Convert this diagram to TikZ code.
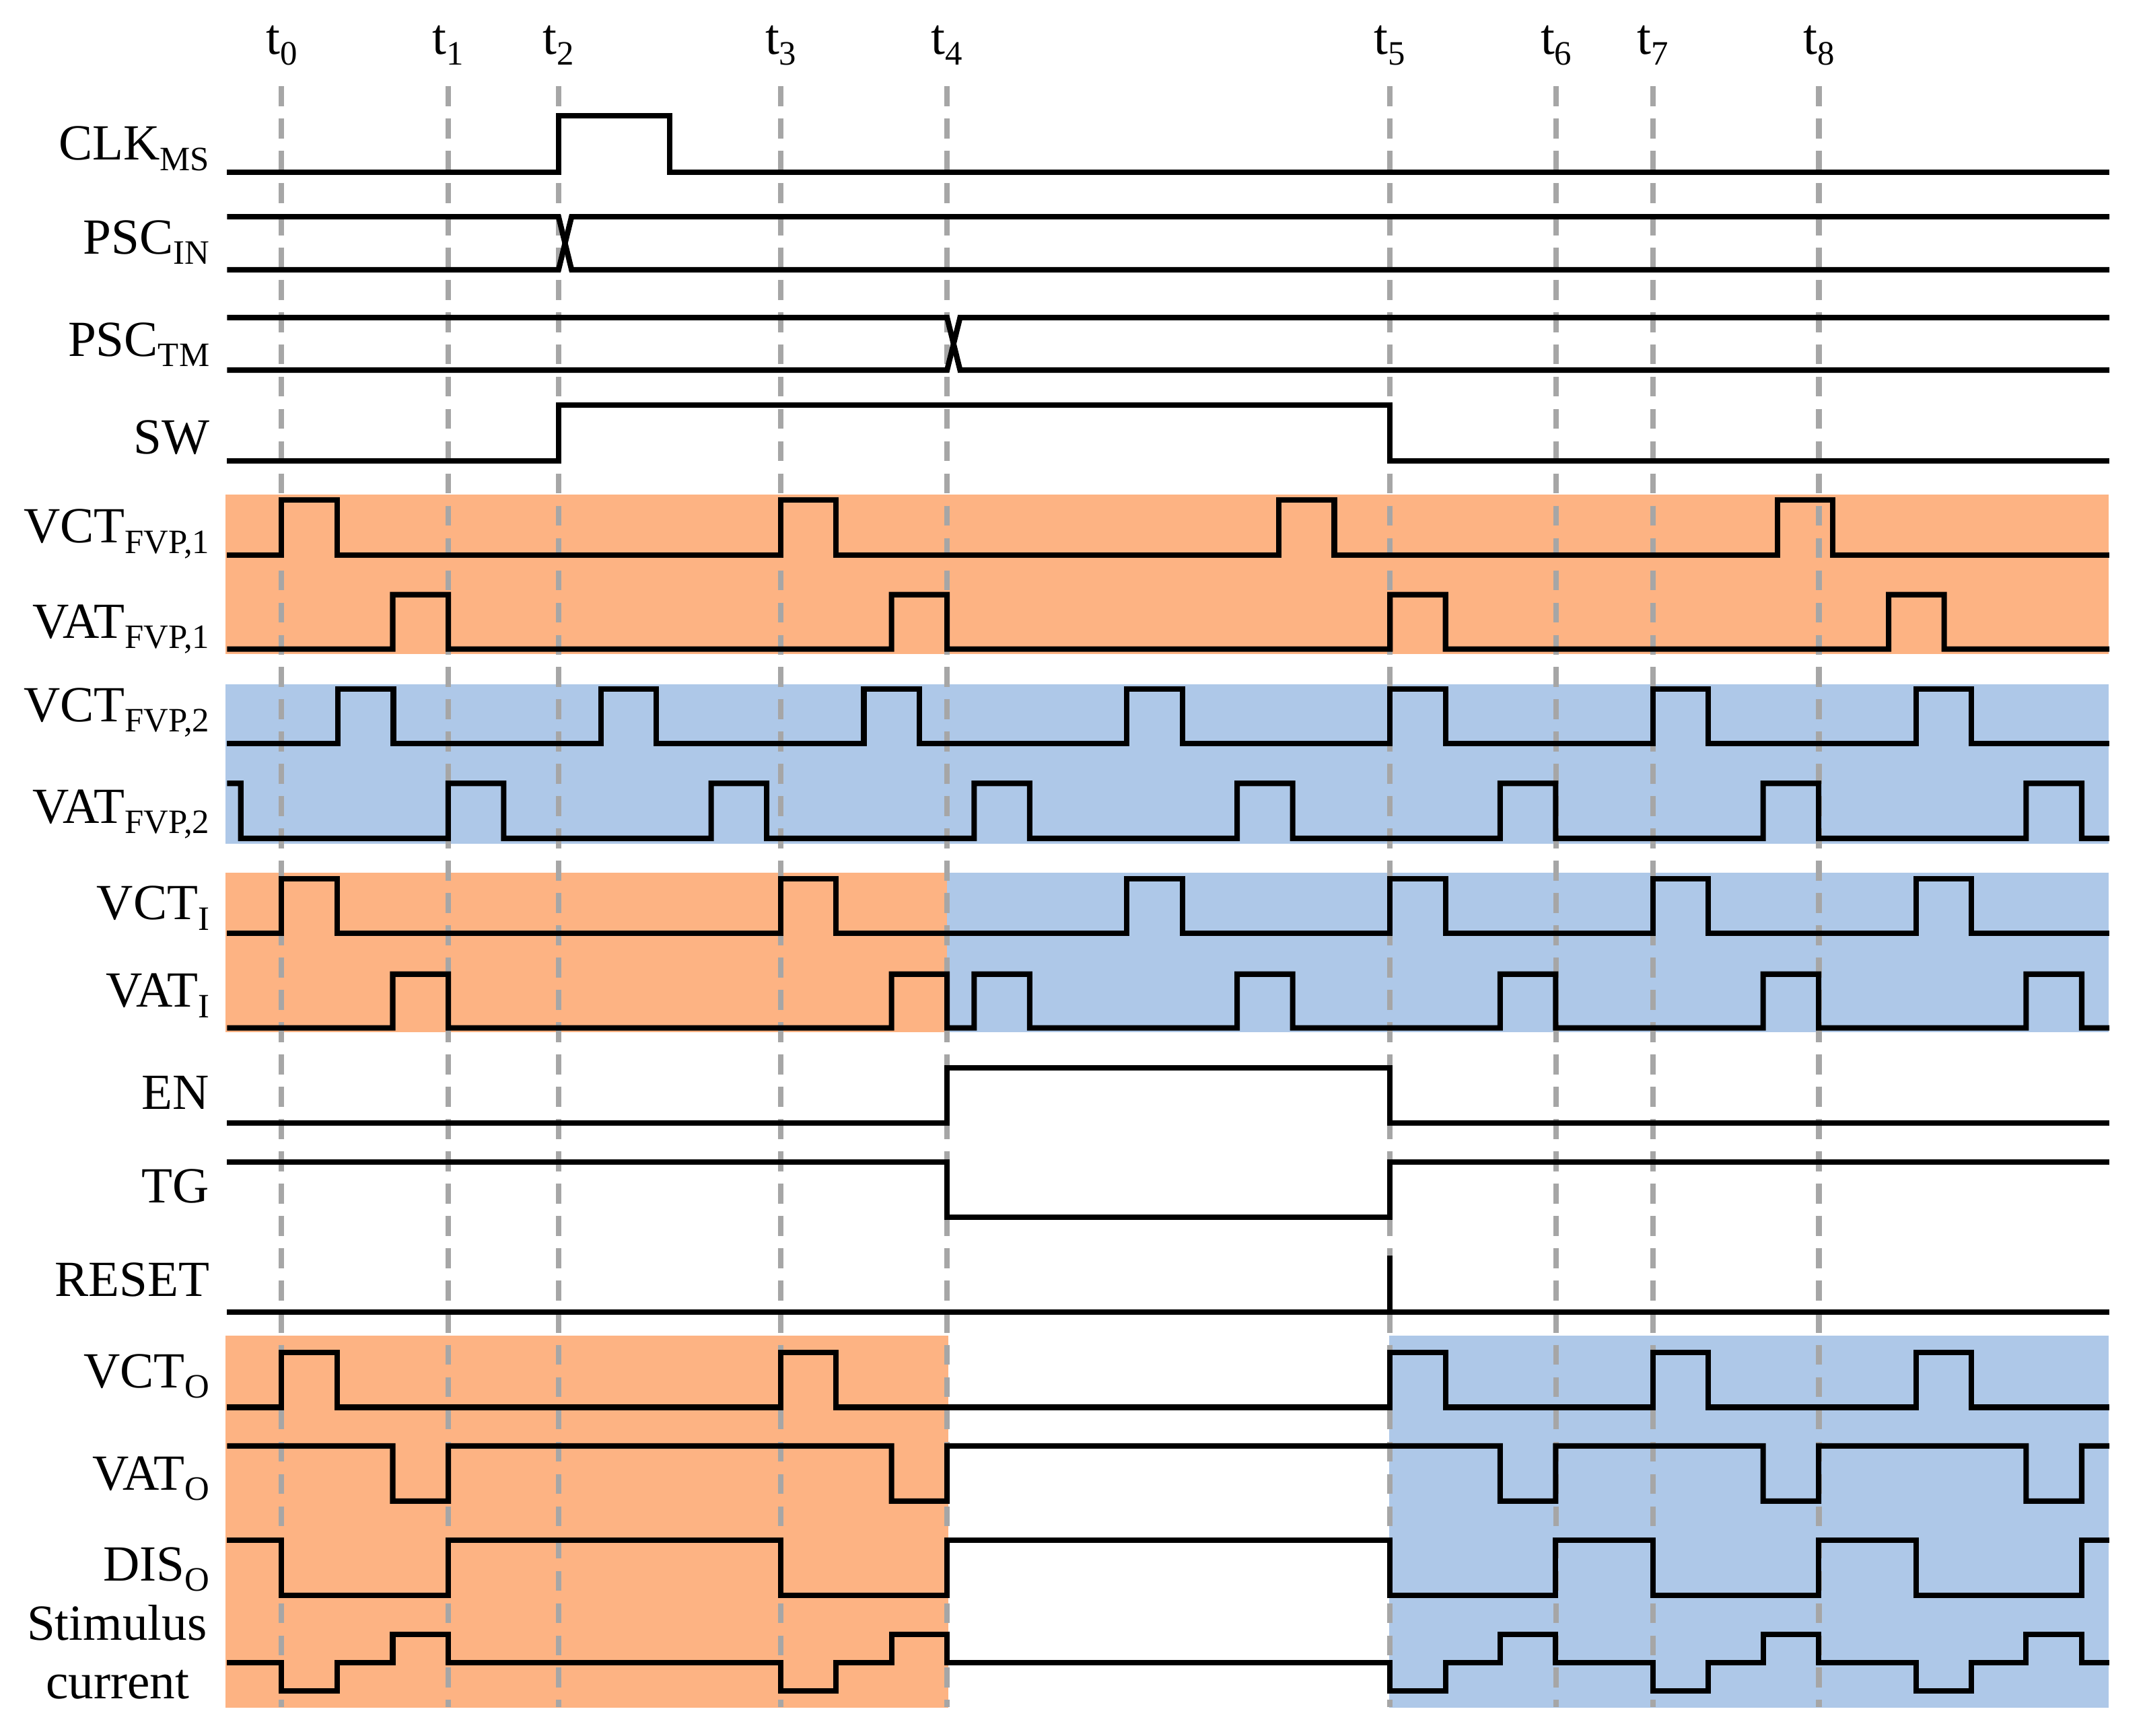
\documentclass[tikz,border=0pt]{standalone}
\usepackage{fontspec}
\setmainfont{Liberation Serif}
\definecolor{bandorange}{RGB}{253,179,131}
\definecolor{bandblue}{RGB}{174,200,232}
\definecolor{gridgrey}{RGB}{166,166,166}
\newcommand\lbsub[1]{\raisebox{-3.8pt}{\fontsize{12.5}{14}\selectfont #1}}
\begin{document}
\begin{tikzpicture}[x=0.5pt,y=-0.5pt,
  sig/.style={line width=2pt, line join=miter},
  gridln/.style={gridgrey, line width=2pt, dash pattern=on 7.3pt off 4.5pt},
  lab/.style={anchor=base east, inner sep=0pt, font=\fontsize{18.5}{21}\selectfont},
  tlab/.style={anchor=base, inner sep=0pt, font=\fontsize{18.5}{21}\selectfont},
  stlab/.style={anchor=base, inner sep=0pt, font=\fontsize{18.5}{21}\selectfont}]
\useasboundingbox (0,0) rectangle (1568,1269);
% background bands
\fill[bandorange] (164.8,361.7) rectangle (1541.4,478.4);
\fill[bandblue] (164.8,500.6) rectangle (1541.4,617);
\fill[bandorange] (164.8,637.9) rectangle (692.3,754.7);
\fill[bandblue] (692.3,637.9) rectangle (1541.4,754.7);
\fill[bandorange] (164.8,976.6) rectangle (693,1248.7);
\fill[bandblue] (1015.4,976.6) rectangle (1541.4,1248.7);
% time markers
\foreach \x/\n in {205.8/0,327.6/1,408.3/2,570.8/3,692.3/4,1016/5,1137.6/6,1208.2/7,1329.6/8} {
  \node[tlab] (t\n) at (\x,39.7) {t\lbsub{\n}};
  \draw[gridln] (\x,63) -- (\x,1248);
}
% labels
\node[lab] (lclk) at (153.5,117) {CLK\lbsub{MS}};
\node[lab] (lpscin) at (153.5,185.7) {PSC\lbsub{IN}};
\node[lab] (lpsctm) at (153.5,260.5) {PSC\lbsub{TM}};
\node[lab] (lsw) at (153.5,332) {SW};
\node[lab] (lvct1) at (153.5,396.9) {VCT\lbsub{FVP,1}};
\node[lab] (lvat1) at (153.5,466.6) {VAT\lbsub{FVP,1}};
\node[lab] (lvct2) at (153.5,527.6) {VCT\lbsub{FVP,2}};
\node[lab] (lvat2) at (153.5,601.8) {VAT\lbsub{FVP,2}};
\node[lab] (lvcti) at (153.5,672.5) {VCT\lbsub{I}};
\node[lab] (lvati) at (153.5,736.5) {VAT\lbsub{I}};
\node[lab] (len) at (153.5,811) {EN};
\node[lab] (ltg) at (153.5,879.5) {TG};
\node[lab] (lreset) at (153.5,948) {RESET};
\node[lab] (lvcto) at (153.5,1014.5) {VCT\lbsub{O}};
\node[lab] (lvato) at (153.5,1089.4) {VAT\lbsub{O}};
\node[lab] (ldiso) at (153.5,1155.9) {DIS\lbsub{O}};
\node[stlab] (lstim1) at (85.5,1199) {Stimulus};
\node[stlab] (lstim2) at (86,1242) {current};
% CLK_MS
\draw[sig] (166,125.8) -- (408.3,125.8) -- (408.3,84.7) -- (489.4,84.7) -- (489.4,125.8) -- (1542,125.8);
% PSC_IN
\draw[sig] (166,158.5) -- (408.3,158.5) -- (417.8,197.2) -- (1542,197.2);
\draw[sig] (166,197.2) -- (408.3,197.2) -- (417.8,158.5) -- (1542,158.5);
% PSC_TM
\draw[sig] (166,232.2) -- (692.3,232.2) -- (701.8,270.6) -- (1542,270.6);
\draw[sig] (166,270.6) -- (692.3,270.6) -- (701.8,232.2) -- (1542,232.2);
% SW
\draw[sig] (166,336.9) -- (408.3,336.9) -- (408.3,296.3) -- (1016,296.3) -- (1016,336.9) -- (1542,336.9);
% VCT_FVP,1
\draw[sig] (166,405.9) \foreach \s in {205.8,570.5,934.8,1299.3} { -- (\s,405.9) -- (\s,365.6) -- ++(40.6,0) -- ++(0,40.3) } -- (1542,405.9);
% VAT_FVP,1
\draw[sig] (166,474.6) \foreach \s in {287.1,651.7,1016.1,1380.6} { -- (\s,474.6) -- (\s,434.8) -- ++(40.6,0) -- ++(0,39.8) } -- (1542,474.6);
% VCT_FVP,2
\draw[sig] (166,543.7) \foreach \s in {247,439.25,631.5,823.75,1016,1208.25,1400.5} { -- (\s,543.7) -- (\s,503.7) -- ++(40.6,0) -- ++(0,40) } -- (1542,543.7);
% VAT_FVP,2
\draw[sig] (166,572.8) -- (176,572.8) -- (176,613) \foreach \s in {327.6,519.85,712.1,904.35,1096.6,1288.85,1481.1} { -- (\s,613) -- (\s,572.8) -- ++(40.6,0) -- ++(0,40.2) } -- (1542,613);
% VCT_I
\draw[sig] (166,682.6) \foreach \s in {205.8,570.5,823.75,1016,1208.25,1400.5} { -- (\s,682.6) -- (\s,642.6) -- ++(40.6,0) -- ++(0,40) } -- (1542,682.6);
% VAT_I
\draw[sig] (166,751.6) \foreach \s in {287.1,651.7,712.1,904.35,1096.6,1288.85,1481.1} { -- (\s,751.6) -- (\s,712.3) -- ++(40.6,0) -- ++(0,39.3) } -- (1542,751.6);
% EN
\draw[sig] (166,821) -- (692.3,821) -- (692.3,781) -- (1016,781) -- (1016,821) -- (1542,821);
% TG
\draw[sig] (166,849.8) -- (692.3,849.8) -- (692.3,889.8) -- (1016,889.8) -- (1016,849.8) -- (1542,849.8);
% RESET
\draw[sig] (166,959.4) -- (1542,959.4);
\draw[sig] (1016,959.4) -- (1016,918.2);
% VCT_O
\draw[sig] (166,1029) \foreach \s in {205.8,570.5,1016,1208.25,1400.5} { -- (\s,1029) -- (\s,989) -- ++(40.6,0) -- ++(0,40) } -- (1542,1029);
% VAT_O
\draw[sig] (166,1057.2) \foreach \s in {287.1,651.7,1096.6,1288.85,1481.1} { -- (\s,1057.2) -- (\s,1097.6) -- ++(40.6,0) -- ++(0,-40.4) } -- (1542,1057.2);
% DIS_O
\draw[sig] (166,1126) -- (205.8,1126) -- (205.8,1166.6) -- (327.7,1166.6) -- (327.7,1126) -- (570.5,1126) -- (570.5,1166.6) -- (692.3,1166.6) -- (692.3,1126) -- (1016,1126) -- (1016,1166.6) -- (1137.2,1166.6) -- (1137.2,1126) -- (1208.25,1126) -- (1208.25,1166.6) -- (1329.45,1166.6) -- (1329.45,1126) -- (1400.5,1126) -- (1400.5,1166.6) -- (1521.7,1166.6) -- (1521.7,1126) -- (1542,1126);
% Stimulus current
\draw[sig] (166,1215.6) -- (205.8,1215.6) -- (205.8,1236.4) -- (246.4,1236.4) -- (246.4,1215.6) -- (287.1,1215.6) -- (287.1,1195) -- (327.7,1195) -- (327.7,1215.6)
  -- (570.5,1215.6) -- (570.5,1236.4) -- (611.1,1236.4) -- (611.1,1215.6) -- (651.7,1215.6) -- (651.7,1195) -- (692.3,1195) -- (692.3,1215.6)
  -- (1016,1215.6) -- (1016,1236.4) -- (1056.6,1236.4) -- (1056.6,1215.6) -- (1096.6,1215.6) -- (1096.6,1195) -- (1137.2,1195) -- (1137.2,1215.6)
  -- (1208.25,1215.6) -- (1208.25,1236.4) -- (1248.85,1236.4) -- (1248.85,1215.6) -- (1288.85,1215.6) -- (1288.85,1195) -- (1329.45,1195) -- (1329.45,1215.6)
  -- (1400.5,1215.6) -- (1400.5,1236.4) -- (1441.1,1236.4) -- (1441.1,1215.6) -- (1481.1,1215.6) -- (1481.1,1195) -- (1521.7,1195) -- (1521.7,1215.6)
  -- (1542,1215.6);
\end{tikzpicture}
\end{document}
